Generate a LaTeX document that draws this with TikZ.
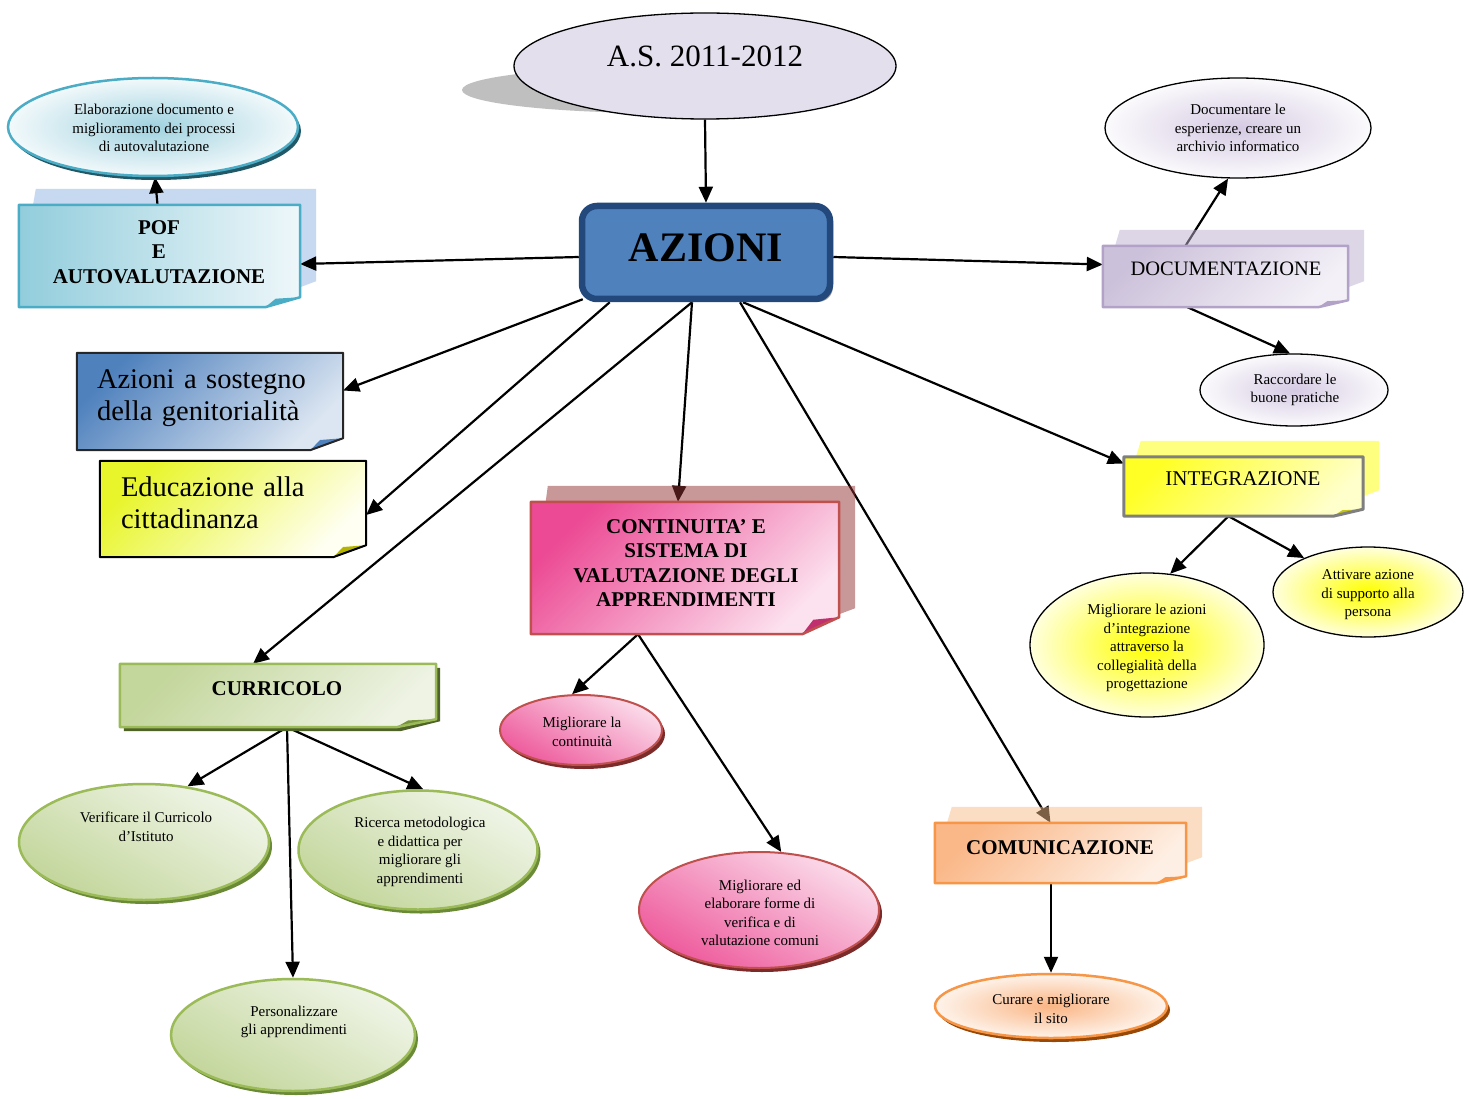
\documentclass[tikz,border=0pt]{standalone}
\usepackage{fontspec}
\setmainfont{Liberation Serif}
\usetikzlibrary{shapes.geometric,arrows.meta,shadows}
\pgfdeclarelayer{paper}
\pgfdeclarelayer{under}
\pgfdeclarelayer{conn}
\pgfdeclarelayer{back}
\pgfdeclarelayer{front}
\pgfsetlayers{paper,under,conn,back,front,main}

% palette
\definecolor{yearfill}{HTML}{E4DFEC}
\definecolor{shadowgray}{HTML}{BFBFBF}
\definecolor{azfill}{HTML}{4F81BD}
\definecolor{azline}{HTML}{23497C}
\definecolor{pofA}{HTML}{92CDDC}
\definecolor{pofB}{HTML}{EEF7FA}
\definecolor{pofline}{HTML}{4BACC6}
\definecolor{pofback}{HTML}{C6D9F1}
\definecolor{elabA}{HTML}{9FD2DF}
\definecolor{elabB}{HTML}{F2F9FB}
\definecolor{elabshadow}{HTML}{215968}
\definecolor{lavA}{HTML}{D5CAE3}
\definecolor{lavB}{HTML}{FBFAFC}
\definecolor{docA}{HTML}{CCC1DA}
\definecolor{docB}{HTML}{F3F0F7}
\definecolor{docline}{HTML}{B3A2C7}
\definecolor{docback}{HTML}{BBAFD1}
\definecolor{integA}{HTML}{FFFF26}
\definecolor{integB}{HTML}{FFFFCC}
\definecolor{integline}{HTML}{7F7F7F}
\definecolor{integback}{HTML}{FFFF00}
\definecolor{integfold}{HTML}{C4C41A}
\definecolor{yelA}{HTML}{FFFF00}
\definecolor{yelB}{HTML}{FFFFDD}
\definecolor{genA}{HTML}{4F81BD}
\definecolor{genB}{HTML}{DCE6F2}
\definecolor{genline}{HTML}{262626}
\definecolor{eduA}{HTML}{E8F52A}
\definecolor{eduB}{HTML}{FFFFF2}
\definecolor{edufold}{HTML}{B4B400}
\definecolor{contA}{HTML}{EC4A94}
\definecolor{contB}{HTML}{FCE1EE}
\definecolor{contline}{HTML}{C0504D}
\definecolor{contback}{HTML}{933335}
\definecolor{contfold}{HTML}{C0306F}
\definecolor{pinkA}{HTML}{EE5A9C}
\definecolor{pinkB}{HTML}{FBDDEB}
\definecolor{pinkshadow}{HTML}{7B2C2A}
\definecolor{currA}{HTML}{C3D69B}
\definecolor{currB}{HTML}{EEF3E4}
\definecolor{currline}{HTML}{9BBB59}
\definecolor{currshadow}{HTML}{4F6228}
\definecolor{currfold}{HTML}{76923C}
\definecolor{greenA}{HTML}{C3D69B}
\definecolor{greenB}{HTML}{F0F5E8}
\definecolor{greenshadow}{HTML}{6B8A35}
\definecolor{commA}{HTML}{FAB787}
\definecolor{commB}{HTML}{FEEFE4}
\definecolor{commline}{HTML}{F79646}
\definecolor{commback}{HTML}{F9BD89}
\definecolor{orangeA}{HTML}{FAB584}
\definecolor{orangeB}{HTML}{FEF3EA}
\definecolor{orangeshadow}{HTML}{984807}

\tikzset{
  arr/.style={line width=2.2pt,-{Triangle[length=16pt,width=14pt]}},
  ell/.style={ellipse,inner sep=0pt},
  boxn/.style={rectangle,inner sep=0pt,draw=none},
  sizeof/.style 2 args={minimum width=#1pt,minimum height=#2pt},
  lbl/.style={align=center,inner sep=0pt,font=\fontsize{15pt}{18.5pt}\selectfont},
  head/.style={align=center,inner sep=0pt,font=\bfseries\fontsize{21pt}{24.5pt}\selectfont},
  plainhead/.style={align=center,inner sep=0pt,font=\fontsize{20.5pt}{24pt}\selectfont},
  bigtext/.style={align=left,inner sep=0pt,font=\fontsize{28.5pt}{32pt}\selectfont},
  shadowed/.style={drop shadow={shadow xshift=3pt,shadow yshift=-4pt,fill=#1,opacity=1}},
  greenell/.style={ell,top color=greenB,bottom color=greenA,shading angle=-30,
    draw=currline,line width=2.5pt,shadowed=greenshadow},
  pinkell/.style={ell,top color=pinkB,bottom color=pinkA,shading angle=-30,
    draw=contline,line width=2pt,shadowed=pinkshadow},
  lavell/.style={ell,inner color=lavA,outer color=lavB,draw=black,line width=1.3pt},
  yelell/.style={ell,inner color=yelA,outer color=yelB,draw=black,line width=1.3pt},
}

% sheet with a turned-down corner: name, shading, border colour, border width, fold colour, cut width, cut height
\newcommand\notebox[7]{%
  \begin{pgfonlayer}{front}
    \shade[#2] (#1.north west) -- (#1.north east) -- ([yshift=#7]#1.south east)
      -- ([xshift=-#6]#1.south east) -- (#1.south west) -- cycle;
    \fill[#5] ([xshift=-#6]#1.south east) -- ([xshift=-0.7*#6,yshift=0.85*#7]#1.south east)
      -- ([yshift=#7]#1.south east) -- cycle;
    \draw[draw=#3,line width=#4,line join=round] (#1.north west) -- (#1.north east)
      -- ([yshift=#7]#1.south east) -- ([xshift=-#6]#1.south east) -- (#1.south west) -- cycle;
  \end{pgfonlayer}}

% second sheet peeking out behind a box: layer, name, fill options
\newcommand\backsheet[3]{%
  \begin{pgfonlayer}{#1}
    \fill[#3] ([shift={(17pt,16pt)}]#2.north west) -- ([shift={(16pt,16pt)}]#2.north east)
      -- ([shift={(16pt,26pt)}]#2.south east) -- ([yshift=20pt]#2.south east)
      -- ([yshift=20pt]#2.south west) -- cycle;
  \end{pgfonlayer}}

\begin{document}
\begin{tikzpicture}[x=1pt,y=-1pt]
\begin{pgfonlayer}{paper}
  \fill[white] (0,0) rectangle (1470,1099);
\end{pgfonlayer}
\useasboundingbox (0,0) rectangle (1470,1099);

% school year
\begin{pgfonlayer}{back}
  \fill[shadowgray] (660,90) ellipse [x radius=198pt,y radius=23pt];
\end{pgfonlayer}
\node[ell,sizeof={382}{106},fill=yearfill,draw=black,line width=1.3pt] (year) at (705,66) {};
\node[inner sep=0pt,font=\fontsize{31pt}{36pt}\selectfont] (yearT) at (705,56) {A.S. 2011-2012};

% central box
\node[rectangle,sizeof={248}{93},rounded corners=15pt,fill=azfill,draw=azline,line width=6.5pt,inner sep=0pt,
  drop shadow={shadow xshift=3pt,shadow yshift=-3pt,fill=gray!70,opacity=1},
  font=\bfseries\fontsize{42pt}{48pt}\selectfont] (azioni) at (706,252.5) {\raisebox{9pt}{AZIONI}};

% boxes
\node[boxn,sizeof={281}{102}] (pof) at (159.5,256) {};
\node[boxn,sizeof={245}{61}] (doc) at (1225.5,276.5) {};
\node[boxn,sizeof={239}{59}] (integ) at (1243.5,486.5) {};
\node[boxn,sizeof={266}{97}] (gen) at (210,401.5) {};
\node[boxn,sizeof={266}{96}] (edu) at (233,509) {};
\node[boxn,sizeof={308}{132}] (cont) at (685,568) {};
\node[boxn,sizeof={316}{63}] (curr) at (278,695.5) {};
\node[boxn,sizeof={251}{60}] (comm) at (1060.5,853) {};

\backsheet{under}{pof}{pofback}
\notebox{pof}{left color=pofA,right color=pofB}{pofline}{2.5pt}{pofline}{35pt}{10pt}
\backsheet{back}{doc}{docback,fill opacity=0.5}
\notebox{doc}{top color=docA,bottom color=docB,shading angle=45}{docline}{2.5pt}{docline}{30pt}{7pt}
\backsheet{back}{integ}{integback,fill opacity=0.5}
\notebox{integ}{top color=integA,bottom color=integB,shading angle=45}{integline}{3pt}{integfold}{30pt}{7pt}
\notebox{gen}{top color=genA,bottom color=genB,shading angle=45}{genline}{2pt}{genA}{33pt}{12pt}
\notebox{edu}{top color=eduA,bottom color=eduB,shading angle=45}{black}{2pt}{edufold}{33pt}{12pt}
\backsheet{back}{cont}{contback,fill opacity=0.5}
\notebox{cont}{top color=contA,bottom color=contB,shading angle=45}{contline}{2.5pt}{contfold}{37pt}{17pt}
\begin{pgfonlayer}{front}
  \fill[currshadow] ([shift={(4pt,-4pt)}]curr.north west) -- ([shift={(4pt,-4pt)}]curr.north east)
    -- ([shift={(4pt,6pt)}]curr.south east) -- ([shift={(-36pt,-4pt)}]curr.south east)
    -- ([shift={(4pt,-4pt)}]curr.south west) -- cycle;
\end{pgfonlayer}
\notebox{curr}{top color=currA,bottom color=currB,shading angle=45}{currline}{2.5pt}{currfold}{40pt}{8pt}
\backsheet{back}{comm}{commback,fill opacity=0.5}
\notebox{comm}{top color=commA,bottom color=commB,shading angle=45}{commline}{2.5pt}{commline}{30pt}{7pt}

% ellipses
\node[ell,sizeof={290}{98},inner color=elabA,outer color=elabB,draw=pofline,line width=2.5pt,
  shadowed=elabshadow] (elab) at (153,127) {};
\node[lavell,sizeof={266}{100}] (docu) at (1238,128) {};
\node[lavell,sizeof={188}{72}] (racc) at (1294,390) {};
\node[yelell,sizeof={234}{144}] (migl) at (1147,645) {};
\node[yelell,sizeof={190}{90}] (attiv) at (1368,592) {};
\node[pinkell,sizeof={162}{70}] (mcont) at (581,730) {};
\node[pinkell,sizeof={240}{116}] (mver) at (759,910) {};
\node[greenell,sizeof={250}{116}] (verif) at (144,842) {};
\node[greenell,sizeof={239}{119}] (ric) at (418,850) {};
\node[greenell,sizeof={244}{112}] (pers) at (293,1035) {};
\node[ell,sizeof={232}{64},inner color=orangeA,outer color=orangeB,draw=commline,line width=2.5pt,
  shadowed=orangeshadow] (cura) at (1051,1006) {};

% texts
\node[head] (pofT) at (159,252) {POF\\E\\AUTOVALUTAZIONE};
\node[lbl] (elabT) at (154,128) {Elaborazione documento e\\miglioramento dei processi\\di autovalutazione};
\node[lbl] (docuT) at (1238,128) {Documentare le\\esperienze, creare un\\archivio informatico};
\node[plainhead] (docT) at (1226,269) {DOCUMENTAZIONE};
\node[lbl] (raccT) at (1295,390) {Raccordare le\\buone pratiche};
\node[plainhead,font=\fontsize{21pt}{24pt}\selectfont] (integT) at (1243,479) {INTEGRAZIONE};
\node[lbl] (miglT) at (1147,648) {Migliorare le azioni\\d’integrazione\\attraverso la\\collegialità della\\progettazione};
\node[lbl] (attivT) at (1368,595) {Attivare azione\\di supporto alla\\persona};
\node[bigtext,text width=226pt] (genT) at (210,398) {Azioni a sostegno\\della genitorialità};
\node[bigtext,text width=224pt] (eduT) at (233,503) {Educazione alla\\cittadinanza};
\node[head] (contT) at (686,563) {CONTINUITA’ E\\SISTEMA DI\\VALUTAZIONE DEGLI\\APPRENDIMENTI};
\node[lbl] (mcontT) at (582,732) {Migliorare la\\continuità};
\node[lbl] (mverT) at (760,913) {Migliorare ed\\elaborare forme di\\verifica e di\\valutazione comuni};
\node[head] (currT) at (277,689) {CURRICOLO};
\node[lbl] (verifT) at (146,827) {Verificare il Curricolo\\d’Istituto};
\node[lbl] (ricT) at (420,852) {Ricerca metodologica\\e didattica per\\migliorare gli\\apprendimenti};
\node[lbl] (persT) at (294,1022) {Personalizzare\\gli apprendimenti};
\node[head] (commT) at (1060,848) {COMUNICAZIONE};
\node[lbl] (curaT) at (1051,1009) {Curare e migliorare\\il sito};

% connectors
\begin{pgfonlayer}{conn}
  \draw[arr] (year.south) -- (azioni.north);
  \draw[arr] ([yshift=-4.5pt]azioni.west) -- ([yshift=-8pt]pof.east);
  \draw[arr] ([yshift=-4.5pt]azioni.east) -- ([yshift=12pt]doc.west);
  \draw[arr] ([xshift=-2pt]pof.north) -- ([xshift=2pt]elab.south);
  \draw[arr] ([shift={(4pt,3pt)}]azioni.south west) -- ([yshift=11pt]gen.east);
  \draw[arr] ([xshift=31pt]azioni.south west) -- ([yshift=-6pt]edu.east);
  \draw[arr] ([xshift=-14pt]azioni.south) -- ([xshift=-25pt]curr.north);
  \draw[arr] ([xshift=-14pt]azioni.south) -- ([xshift=-7pt]cont.north);
  \draw[arr] ([xshift=34pt]azioni.south) -- ([xshift=-10pt]comm.north);
  \draw[arr] ([xshift=37pt]azioni.south) -- ([yshift=23pt]integ.west);
  \draw[arr] ([xshift=-40pt]doc.north) -- ([xshift=-10pt]docu.south);
  \draw[arr] ([xshift=-38pt]doc.south) -- ([xshift=-4pt]racc.north);
  \draw[arr] ([xshift=-15pt]integ.south) -- (migl.72);
  \draw[arr] ([xshift=-15pt]integ.south) -- (attiv.152);
  \draw[arr] ([xshift=-47pt]cont.south) -- (mcont.104);
  \draw[arr] ([xshift=-47pt]cont.south) -- (mver.69);
  \draw[arr] ([xshift=9pt]curr.south) -- (verif.52);
  \draw[arr] ([xshift=9pt]curr.south) -- (ric.85);
  \draw[arr] ([xshift=9pt]curr.south) -- (pers.north);
  \draw[arr] (cura.north |- comm.south) -- (cura.north);
\end{pgfonlayer}
\end{tikzpicture}
\end{document}
